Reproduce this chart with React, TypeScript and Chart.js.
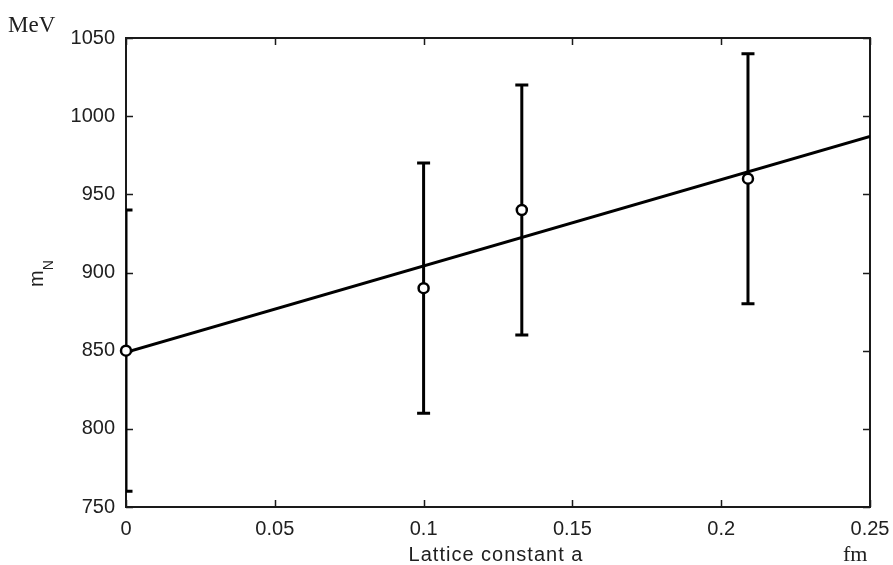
import React, { useEffect, useRef } from 'react';
import { Chart, registerables } from 'chart.js';

Chart.register(...registerables);

// Data
const latticeA = [0, 0.1, 0.133, 0.209];
const nucleonMass = [850, 890, 940, 960];
const errLow = [760, 810, 860, 880];
const errHigh = [940, 970, 1020, 1040];
const fitA = [0, 0.25];
const fitMass = [849, 987];

const xTicks = [0, 0.05, 0.1, 0.15, 0.2, 0.25];
const xTickLabels = ['0', '0.05', '0.1', '0.15', '0.2', '0.25'];
const yTicks = [750, 800, 850, 900, 950, 1000, 1050];
const yTickLabels = ['750', '800', '850', '900', '950', '1000', '1050'];

const xTitle = 'Lattice constant a';
const xUnit = 'fm';
const yUnit = 'MeV';
const yTitleMain = 'm';
const yTitleSub = 'N';

const SANS = "'Liberation Sans', Arial, sans-serif";
const SERIF = "'Liberation Serif', 'Times New Roman', serif";
const TEXT = '#202020';

const errorBarPlugin = {
  id: 'errorBars',
  beforeDatasetsDraw(chart: any) {
    const { ctx, chartArea: a, scales } = chart;
    const x = scales.x;
    const y = scales.y;
    ctx.save();
    ctx.beginPath();
    ctx.rect(a.left, a.top, a.right - a.left, a.bottom - a.top);
    ctx.clip();
    ctx.strokeStyle = '#000';
    ctx.lineWidth = 3;
    ctx.lineCap = 'butt';
    latticeA.forEach((v, i) => {
      const px = x.getPixelForValue(v);
      const lo = y.getPixelForValue(errLow[i]);
      const hi = y.getPixelForValue(errHigh[i]);
      ctx.beginPath();
      ctx.moveTo(px, lo);
      ctx.lineTo(px, hi);
      ctx.moveTo(px - 6.5, lo);
      ctx.lineTo(px + 6.5, lo);
      ctx.moveTo(px - 6.5, hi);
      ctx.lineTo(px + 6.5, hi);
      ctx.stroke();
    });
    ctx.restore();
  },
};

const framePlugin = {
  id: 'frame',
  beforeDatasetsDraw(chart: any) {
    const { ctx, chartArea: a, scales } = chart;
    const x = scales.x;
    const y = scales.y;
    ctx.save();
    ctx.strokeStyle = '#1a1a1a';
    ctx.lineWidth = 2;
    ctx.strokeRect(a.left, a.top, a.right - a.left, a.bottom - a.top);
    ctx.lineWidth = 1.5;
    const tl = 7;
    ctx.beginPath();
    xTicks.forEach((v) => {
      const px = Math.round(x.getPixelForValue(v)) + 0.5;
      ctx.moveTo(px, a.bottom);
      ctx.lineTo(px, a.bottom - tl);
      ctx.moveTo(px, a.top);
      ctx.lineTo(px, a.top + tl);
    });
    yTicks.forEach((v) => {
      const py = Math.round(y.getPixelForValue(v)) + 0.5;
      ctx.moveTo(a.left, py);
      ctx.lineTo(a.left + tl, py);
      ctx.moveTo(a.right, py);
      ctx.lineTo(a.right - tl, py);
    });
    ctx.stroke();
    ctx.restore();
  },
  afterDraw(chart: any) {
    const { ctx } = chart;
    ctx.save();
    ctx.fillStyle = TEXT;
    ctx.textBaseline = 'alphabetic';
    ctx.textAlign = 'left';
    ctx.font = `23px ${SERIF}`;
    ctx.fillText(yUnit, 8, 32);
    ctx.font = `22px ${SERIF}`;
    ctx.fillText(xUnit, 843, 561);

    ctx.font = `20px ${SANS}`;
    ctx.textAlign = 'center';
    try {
      (ctx as any).letterSpacing = '1px';
    } catch (e) {}
    ctx.fillText(xTitle, 496, 561);
    try {
      (ctx as any).letterSpacing = '0px';
    } catch (e) {}

    // rotated m_N
    ctx.save();
    ctx.translate(43, 287);
    ctx.rotate(-Math.PI / 2);
    ctx.textAlign = 'left';
    ctx.font = `20px ${SANS}`;
    ctx.fillText(yTitleMain, 0, 0);
    const w = ctx.measureText(yTitleMain).width;
    ctx.font = `14px ${SANS}`;
    ctx.fillText(yTitleSub, w, 10);
    ctx.restore();

    ctx.restore();
  },
};

export default function App() {
  const canvasRef = useRef<HTMLCanvasElement | null>(null);

  useEffect(() => {
    const canvas = canvasRef.current;
    if (!canvas) return;
    const chart = new Chart(canvas, {
      type: 'scatter',
      data: {
        datasets: [
          {
            type: 'scatter',
            label: 'data',
            data: latticeA.map((v, i) => ({ x: v, y: nucleonMass[i] })),
            pointStyle: 'circle',
            pointRadius: 5,
            pointBorderWidth: 2.5,
            pointBorderColor: '#000',
            pointBackgroundColor: '#fff',
            showLine: false,
            clip: false,
          } as any,
          {
            type: 'line',
            label: 'fit',
            data: fitA.map((v, i) => ({ x: v, y: fitMass[i] })),
            borderColor: '#000',
            borderWidth: 3,
            pointRadius: 0,
            fill: false,
          } as any,
        ],
      },
      options: {
        responsive: false,
        animation: false,
        events: [],
        layout: { padding: { left: 0, right: 23, top: 38, bottom: 0 } },
        plugins: {
          legend: { display: false },
          tooltip: { enabled: false },
          title: { display: false },
        },
        scales: {
          x: {
            type: 'linear',
            min: 0,
            max: 0.25,
            grid: { display: false, drawTicks: false },
            border: { display: false },
            afterBuildTicks: (scale: any) => {
              scale.ticks = xTicks.map((v) => ({ value: v }));
            },
            afterFit: (scale: any) => {
              scale.height = 58;
              scale.paddingLeft = 0;
              scale.paddingRight = 0;
            },
            ticks: {
              padding: 10,
              color: TEXT,
              font: { family: SANS, size: 20 },
              maxRotation: 0,
              autoSkip: false,
              callback: (v: any) => {
                const i = xTicks.indexOf(Number(v));
                return i >= 0 ? xTickLabels[i] : '';
              },
            },
          },
          y: {
            type: 'linear',
            min: 750,
            max: 1050,
            grid: { display: false, drawTicks: false },
            border: { display: false },
            afterBuildTicks: (scale: any) => {
              scale.ticks = yTicks.map((v) => ({ value: v }));
            },
            afterFit: (scale: any) => {
              scale.width = 126;
              scale.paddingTop = 0;
              scale.paddingBottom = 0;
            },
            ticks: {
              padding: 11,
              color: TEXT,
              font: { family: SANS, size: 20 },
              autoSkip: false,
              callback: (v: any) => {
                const i = yTicks.indexOf(Number(v));
                return i >= 0 ? yTickLabels[i] : '';
              },
            },
          },
        },
      } as any,
      plugins: [framePlugin, errorBarPlugin],
    });
    return () => chart.destroy();
  }, []);

  return (
    <div style={{ position: 'absolute', left: 0, top: 0, width: 893, height: 565, background: '#fff' }}>
      <canvas ref={canvasRef} width={893} height={565} style={{ display: 'block' }} />
    </div>
  );
}
